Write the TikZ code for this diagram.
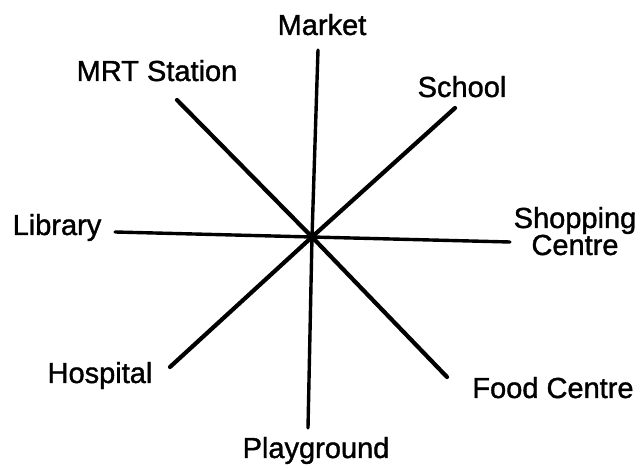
\documentclass[tikz,border=0pt]{standalone}
\usepackage{fontspec}
\setmainfont{Liberation Sans}
\newfontfamily\labelfont[FakeBold=1.3]{Liberation Sans}
\begin{document}
\begin{tikzpicture}[x=1pt,y=-1pt,
  lbl/.style={font=\labelfont\fontsize{29}{27}\selectfont, inner sep=0pt, anchor=base},
  spoke/.style={line width=4.2pt, line cap=round},
  thinspoke/.style={line width=3.4pt, line cap=round}]
\useasboundingbox (0,0) rectangle (641,470);
% line ends
\coordinate (c) at (312,237);
\coordinate (eMarket) at (318,50);
\coordinate (ePlay) at (308,428);
\coordinate (eMRT) at (177,100);
\coordinate (eFood) at (447,377);
\coordinate (eSchool) at (455,108);
\coordinate (eHosp) at (170,367);
\coordinate (eLib) at (115,232);
\coordinate (eShop) at (510,242);
% labels
\node[lbl] (market) at (322,35) {Market};
\node[lbl] (mrt) at (157,81) {MRT Station};
\node[lbl] (school) at (462,97) {School};
\node[lbl] (library) at (57,235) {Library};
\node[lbl, align=center] (shop) at (575,255) {Shopping\\Centre};
\node[lbl] (hosp) at (100,383) {Hospital};
\node[lbl] (food) at (553,398) {Food Centre};
\node[lbl] (play) at (316,458) {Playground};
% spokes
\draw[thinspoke] (eMarket) -- (c) -- (ePlay);
\draw[spoke] (eMRT) -- (c) -- (eFood);
\draw[spoke] (eSchool) -- (c) -- (eHosp);
\draw[thinspoke] (eLib) -- (c) -- (eShop);
\end{tikzpicture}
\end{document}
